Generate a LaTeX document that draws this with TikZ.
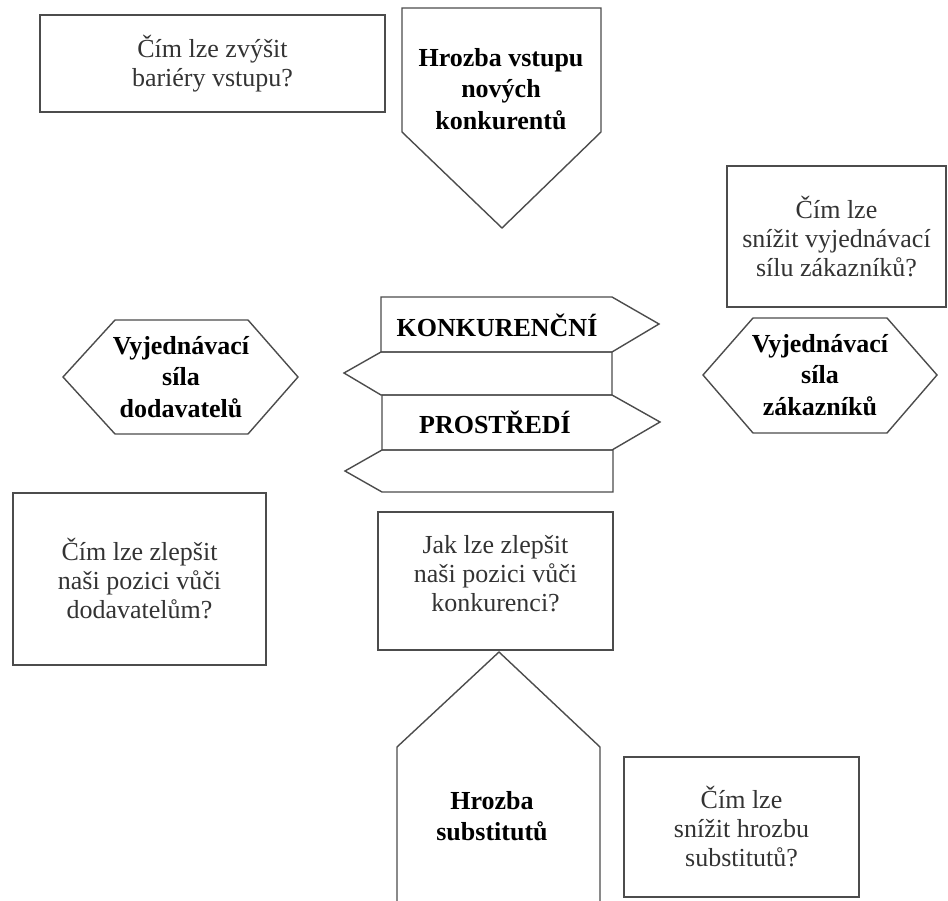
\documentclass[tikz,border=0pt]{standalone}
\usepackage{fontspec}
\setmainfont{Liberation Serif}
\tikzset{
  shp/.style={draw=black!70, line width=1.4pt, line join=miter},
  qbox/.style={shp, rectangle, inner sep=0pt, align=center,
    font=\fontsize{26}{29}\selectfont, text=black!80},
  btxt/.style={align=center, inner sep=0pt,
    font=\fontsize{26}{31.5}\selectfont\bfseries, text=black},
}
\begin{document}
\begin{tikzpicture}[x=1pt,y=-1pt]
\useasboundingbox (0,0) rectangle (948,901);

% question boxes
\node[qbox, minimum width=345pt, minimum height=97pt] (b1) at (212.5,63.5)
  {Čím lze zvýšit\\bariéry vstupu?};
\node[qbox, minimum width=219pt, minimum height=141pt] (b2) at (836.5,236.5)
  {Čím lze\\snížit vyjednávací\\sílu zákazníků?};
\node[qbox, minimum width=253pt, minimum height=172pt] (b3) at (139.5,579)
  {Čím lze zlepšit\\naši pozici vůči\\dodavatelům?};
\node[qbox, minimum width=235pt, minimum height=138pt] (b4) at (495.5,581) {};
\node[qbox, draw=none, fill=none] (t4) at (495.5,574)
  {Jak lze zlepšit\\naši pozici vůči\\konkurenci?};
\node[qbox, minimum width=235pt, minimum height=140pt] (b5) at (741.5,827)
  {Čím lze\\snížit hrozbu\\substitutů?};

% threat of new entrants (down pentagon)
\draw[shp] (402,8) -- (601,8) -- (601,132) -- (502,228) -- (402,132) -- cycle;
\node[btxt] (p1) at (501,89) {Hrozba vstupu\\nových\\konkurentů};

% supplier power (hexagon)
\draw[shp] (63,377) -- (115,320) -- (248,320) -- (298,377) -- (248,434) -- (115,434) -- cycle;
\node[btxt] (h1) at (181,377) {Vyjednávací\\síla\\dodavatelů};

% customer power (hexagon)
\draw[shp] (703,375) -- (753,318) -- (887,318) -- (937,375) -- (887,433) -- (753,433) -- cycle;
\node[btxt] (h2) at (820,375) {Vyjednávací\\síla\\zákazníků};

% central arrows
\draw[shp] (381,297) -- (612,297) -- (659,324) -- (612,352) -- (381,352) -- cycle;
\draw[shp] (381,352) -- (612,352) -- (612,395) -- (381,395) -- (344,373) -- cycle;
\draw[shp] (382,395) -- (612,395) -- (660,422) -- (612,450) -- (382,450) -- cycle;
\draw[shp] (382,450) -- (613,450) -- (613,492) -- (382,492) -- (345,471) -- cycle;
\node[btxt] (k1) at (497,325) {KONKURENČNÍ};
\node[btxt] (k2) at (495,422) {PROSTŘEDÍ};

% threat of substitutes (up pentagon)
\draw[shp] (397,901) -- (397,747) -- (499,652) -- (600,747) -- (600,901);
\node[btxt] (p2) at (492,816) {Hrozba\\substitutů};
\end{tikzpicture}
\end{document}
